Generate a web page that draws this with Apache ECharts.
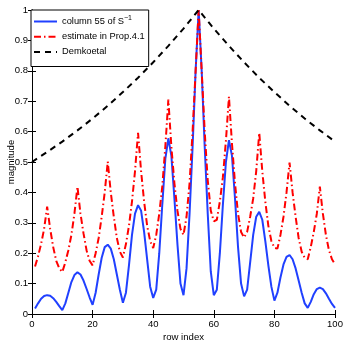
<!DOCTYPE html>
<html>
<head>
<meta charset="utf-8">
<script src="https://cdn.jsdelivr.net/npm/echarts@6/dist/echarts.min.js"></script>
<style>
  html, body { margin: 0; padding: 0; background: #fff; }
  #chart { width: 346px; height: 346px; }
</style>
</head>
<body>
<div id="chart"></div>
<script>
// column 55 of S^-1, rows 1..100
var blueValues = [
  0.018, 0.035, 0.050, 0.059, 0.062, 0.060, 0.052, 0.040, 0.026, 0.013,
  0.035, 0.070, 0.105, 0.128, 0.137, 0.130, 0.110, 0.083, 0.055, 0.030,
  0.070, 0.130, 0.185, 0.220, 0.228, 0.215, 0.180, 0.130, 0.080, 0.037,
  0.070, 0.160, 0.260, 0.330, 0.358, 0.340, 0.270, 0.180, 0.090, 0.053,
  0.080, 0.200, 0.360, 0.510, 0.578, 0.520, 0.380, 0.230, 0.100, 0.062,
  0.150, 0.330, 0.550, 0.800, 1.000, 0.800, 0.550, 0.330, 0.140, 0.062,
  0.080, 0.200, 0.360, 0.500, 0.572, 0.520, 0.380, 0.220, 0.100, 0.058,
  0.080, 0.170, 0.260, 0.320, 0.336, 0.310, 0.240, 0.160, 0.090, 0.044,
  0.070, 0.120, 0.163, 0.188, 0.194, 0.180, 0.150, 0.110, 0.070, 0.035,
  0.020, 0.040, 0.065, 0.082, 0.087, 0.082, 0.068, 0.050, 0.033, 0.020
];
// estimate in Prop.4.1, rows 1..100
var redValues = [
  0.156, 0.190, 0.230, 0.280, 0.353, 0.280, 0.220, 0.175, 0.150, 0.138,
  0.170, 0.210, 0.260, 0.330, 0.419, 0.330, 0.265, 0.210, 0.175, 0.160,
  0.200, 0.250, 0.320, 0.400, 0.501, 0.400, 0.320, 0.250, 0.205, 0.186,
  0.230, 0.290, 0.370, 0.470, 0.596, 0.470, 0.370, 0.290, 0.240, 0.217,
  0.260, 0.330, 0.420, 0.550, 0.705, 0.550, 0.430, 0.340, 0.280, 0.260,
  0.320, 0.430, 0.600, 0.800, 1.000, 0.800, 0.600, 0.440, 0.340, 0.305,
  0.310, 0.370, 0.450, 0.570, 0.715, 0.560, 0.430, 0.330, 0.270, 0.252,
  0.270, 0.320, 0.380, 0.470, 0.596, 0.470, 0.370, 0.290, 0.240, 0.218,
  0.215, 0.260, 0.320, 0.400, 0.498, 0.400, 0.320, 0.250, 0.205, 0.185,
  0.180, 0.220, 0.270, 0.330, 0.419, 0.330, 0.260, 0.210, 0.180, 0.164
];
// Demkoetal bound
var blackX = [0, 5, 10, 15, 20, 25, 30, 35, 40, 45, 50, 55, 60, 65, 70, 75, 80, 85, 90, 95, 100];
var blackValues = [0.500, 0.533, 0.567, 0.604, 0.643, 0.685, 0.730, 0.777, 0.828, 0.882, 0.939, 1.000,
                   0.939, 0.882, 0.828, 0.777, 0.730, 0.685, 0.643, 0.604, 0.567];
var seriesNames = ['column 55 of S^-1', 'estimate in Prop.4.1', 'Demkoetal'];

var blueData = blueValues.map(function (v, i) { return [i + 1, v]; });
var redData = redValues.map(function (v, i) { return [i + 1, v]; });
var blackData = blackValues.map(function (v, i) { return [blackX[i], v]; });

var font = 'Liberation Sans, Arial, sans-serif';
var chart = echarts.init(document.getElementById('chart'));
chart.setOption({
  animation: false,
  grid: { left: 32, right: 11, top: 10, bottom: 32, containLabel: false, outerBoundsMode: 'none' },
  legend: {
    orient: 'vertical',
    left: 31,
    top: 10,
    padding: [5, 4, 9, 2],
    itemGap: 4,
    itemWidth: 23,
    itemHeight: 14,
    backgroundColor: '#fff',
    borderColor: '#000',
    borderWidth: 1,
    itemStyle: { opacity: 0 },
    data: seriesNames,
    formatter: function (name) {
      if (name === seriesNames[0]) return 'column 55 of S{sup|\u22121}';
      return name;
    },
    textStyle: {
      fontFamily: font, fontSize: 9.3, color: '#000',
      rich: { sup: { fontFamily: font, fontSize: 7, color: '#000', padding: [0, 0, 6, 0] } }
    }
  },
  xAxis: [{
    type: 'value', min: 0, max: 100, interval: 20,
    name: 'row index', nameLocation: 'middle', nameGap: 18, nameMoveOverlap: false,
    nameTextStyle: { fontFamily: font, fontSize: 9.6, color: '#000' },
    axisLine: { lineStyle: { color: '#000' } },
    axisTick: { inside: true, length: 4, lineStyle: { color: '#000' } },
    axisLabel: { fontFamily: font, fontSize: 9.5, color: '#000', margin: 5 },
    splitLine: { show: false }
  }, {
    type: 'value', min: 0, max: 100, interval: 20, position: 'top',
    axisLine: { lineStyle: { color: '#000' } },
    axisTick: { inside: true, length: 4, lineStyle: { color: '#000' } },
    axisLabel: { show: false }, splitLine: { show: false }
  }],
  yAxis: [{
    type: 'value', min: 0, max: 1, interval: 0.1,
    name: 'magnitude', nameLocation: 'middle', nameGap: 16, nameMoveOverlap: false,
    nameTextStyle: { fontFamily: font, fontSize: 9.5, color: '#000' },
    axisLine: { show: true, lineStyle: { color: '#000' } },
    axisTick: { show: true, inside: true, length: 4, lineStyle: { color: '#000' } },
    axisLabel: { fontFamily: font, fontSize: 9.5, color: '#000', margin: 4,
      formatter: function (v) { return String(Math.round(v * 10) / 10); } },
    splitLine: { show: false }
  }, {
    type: 'value', min: 0, max: 1, interval: 0.1, position: 'right',
    axisLine: { show: true, lineStyle: { color: '#000' } },
    axisTick: { show: true, inside: true, length: 4, lineStyle: { color: '#000' } },
    axisLabel: { show: false }, splitLine: { show: false }
  }],
  series: [{
    name: seriesNames[0], type: 'line', data: blueData,
    showSymbol: false, symbol: 'none',
    lineStyle: { color: '#2040ff', width: 2 },
    itemStyle: { color: '#2040ff' }
  }, {
    name: seriesNames[1], type: 'line', data: redData,
    showSymbol: false, symbol: 'none',
    lineStyle: { color: '#ff0000', width: 2, type: [7, 3, 1.5, 3] },
    itemStyle: { color: '#ff0000' }
  }, {
    name: seriesNames[2], type: 'line', data: blackData,
    showSymbol: false, symbol: 'none',
    lineStyle: { color: '#000', width: 2, type: [6, 5] },
    itemStyle: { color: '#000' }
  }]
});
</script>
</body>
</html>
